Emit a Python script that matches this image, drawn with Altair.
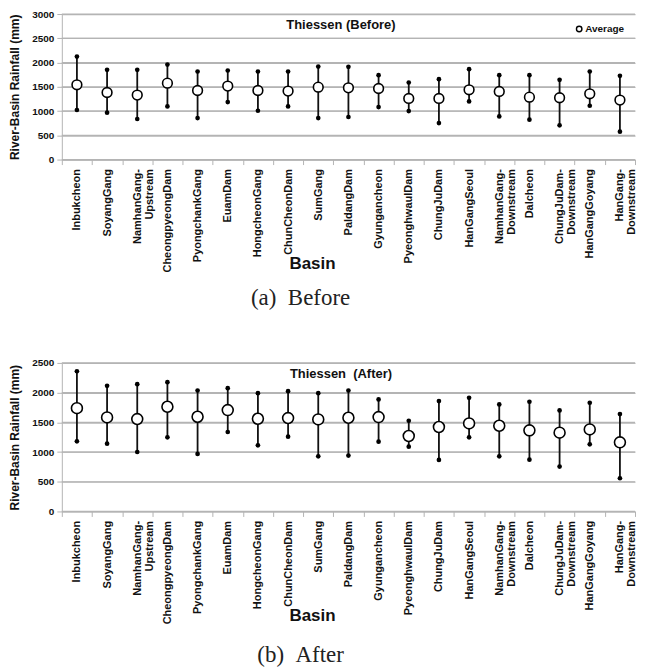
import altair as alt
import pandas as pd

basins = ["Inbukcheon", "SoyangGang", "NamhanGang-\nUpstream", "CheongpyeongDam",
          "PyongchankGang", "EuamDam", "HongcheonGang", "ChunCheonDam", "SumGang",
          "PaldangDam", "Gyungancheon", "PyeonghwaulDam", "ChungJuDam", "HanGangSeoul",
          "NamhanGang-\nDownstream", "Dalcheon", "ChungJuDam-\nDownstream",
          "HanGangGoyang", "HanGang-\nDownstream"]

before_avg = [1541, 1383, 1329, 1575, 1424, 1514, 1424, 1411, 1493, 1479, 1465, 1260, 1260, 1438, 1404, 1287, 1274, 1356, 1226]
before_max = [2123, 1849, 1849, 1958, 1815, 1836, 1815, 1815, 1917, 1911, 1740, 1588, 1658, 1863, 1740, 1740, 1644, 1815, 1726]
before_min = [1021, 966, 836, 1096, 856, 1185, 1007, 1096, 856, 877, 1082, 1000, 753, 1198, 890, 822, 705, 1110, 575]

after_avg = [1739, 1583, 1555, 1762, 1594, 1706, 1560, 1572, 1549, 1577, 1588, 1270, 1421, 1482, 1443, 1365, 1326, 1381, 1163]
after_max = [2360, 2114, 2142, 2176, 2036, 2075, 1991, 2025, 1991, 2036, 1885, 1527, 1857, 1913, 1801, 1846, 1700, 1829, 1639]
after_min = [1180, 1141, 1001, 1247, 968, 1337, 1113, 1258, 928, 940, 1174, 1091, 867, 1247, 928, 872, 755, 1130, 559]

before_ticks = [0, 500, 1000, 1500, 2000, 2500, 3000]
after_ticks = [0, 500, 1000, 1500, 2000, 2500]

FONT = "Liberation Sans"
GRID = "#b4b4b4"
W = 575
NB = "\u00a0"


def panel(avg, hi, lo, ticks, height, inner_title, caption, legx, legy,
          avg_size, cap_offset):
    ymax = ticks[-1]
    df = pd.DataFrame({"basin": basins, "avg": avg, "hi": hi, "lo": lo,
                       "series": ["Average"] * len(basins)})
    x = alt.X("basin:N", sort=basins,
              scale=alt.Scale(type="band", paddingInner=0, paddingOuter=0),
              axis=alt.Axis(title="Basin", labelAngle=-90,
                            labelExpr="split(datum.label, '\\n')",
                            labelFont=FONT, labelFontSize=11, labelFontWeight="bold",
                            labelColor="#111", labelLineHeight=12, labelPadding=4,
                            tickBand="extent", tickColor=GRID, tickSize=5,
                            domainColor=GRID, titleFont=FONT, titleFontSize=17,
                            titleFontWeight="bold", titleColor="#111",
                            titleY=96, titleX=251))
    yaxis = alt.Axis(title="River-Basin Rainfall (mm)",
                     values=ticks, format="d",
                     grid=True, gridColor=GRID, gridWidth=1.2,
                     domainColor=GRID, tickColor=GRID, tickSize=5,
                     labelFont=FONT, labelFontSize=10, labelFontWeight="bold",
                     labelColor="#111", labelPadding=3,
                     titleFont=FONT, titleFontSize=12, titleFontWeight="bold",
                     titleColor="#111", titlePadding=10)
    yscale = alt.Scale(domain=[0, ymax], nice=False)
    grid = alt.Chart(pd.DataFrame({"g": ticks})).mark_rule(
        color=GRID, strokeWidth=1.2).encode(
        y=alt.Y("g:Q", scale=yscale, axis=yaxis))
    base = alt.Chart(df)
    rule = base.mark_rule(color="#111", strokeWidth=1.8).encode(
        x=x, y=alt.Y("lo:Q", scale=yscale, axis=yaxis), y2="hi:Q")
    lo_pts = base.mark_circle(color="#000", size=22, opacity=1).encode(
        x=x, y=alt.Y("lo:Q", scale=yscale, axis=yaxis))
    hi_pts = base.mark_circle(color="#000", size=22, opacity=1).encode(
        x=x, y=alt.Y("hi:Q", scale=yscale, axis=yaxis))
    avg_pts = base.mark_point(filled=False, fill="white", fillOpacity=1,
                              strokeWidth=1.6, size=avg_size,
                              opacity=1).encode(
        x=x, y=alt.Y("avg:Q", scale=yscale, axis=yaxis),
        color=alt.Color("series:N", scale=alt.Scale(range=["#000"]),
                        legend=alt.Legend(title=None, orient="none",
                                          legendX=legx, legendY=legy,
                                          labelFont=FONT, labelFontSize=10,
                                          labelFontWeight="bold", labelColor="#111",
                                          symbolType="circle",
                                          symbolSize=30, symbolStrokeWidth=1.4,
                                          symbolOpacity=1,
                                          labelOffset=1, padding=0)))
    ttl = alt.Chart(pd.DataFrame({"t": [inner_title]})).mark_text(
        font=FONT, fontSize=13, fontWeight="bold", color="#111",
        align="center", baseline="middle").encode(
        text="t:N", x=alt.value(280), y=alt.value(11))
    return alt.layer(grid, rule, lo_pts, hi_pts, avg_pts, ttl).properties(
        width=W, height=height,
        title=alt.TitleParams(caption, orient="bottom", anchor="middle",
                              font="Liberation Serif", fontSize=23,
                              fontWeight="normal", color="#222", dx=-48,
                              offset=cap_offset))


top = panel(before_avg, before_max, before_min, before_ticks, 146,
            "Thiessen (Before)", "(a)" + NB + NB + "Before", 514, 10, 95, 15)
bottom = panel(after_avg, after_max, after_min, after_ticks, 149,
               "Thiessen" + NB + NB + "(After)", "(b)" + NB + NB + "After",
               525, 12, 120, 20)

chart = alt.vconcat(top, bottom, spacing=48).properties(
    padding={"left": 0, "top": 0, "right": 0, "bottom": 0}
).configure_view(stroke=None).configure_concat(spacing=48)

chart.save("out.html", embed_options={"renderer": "svg", "actions": False})
